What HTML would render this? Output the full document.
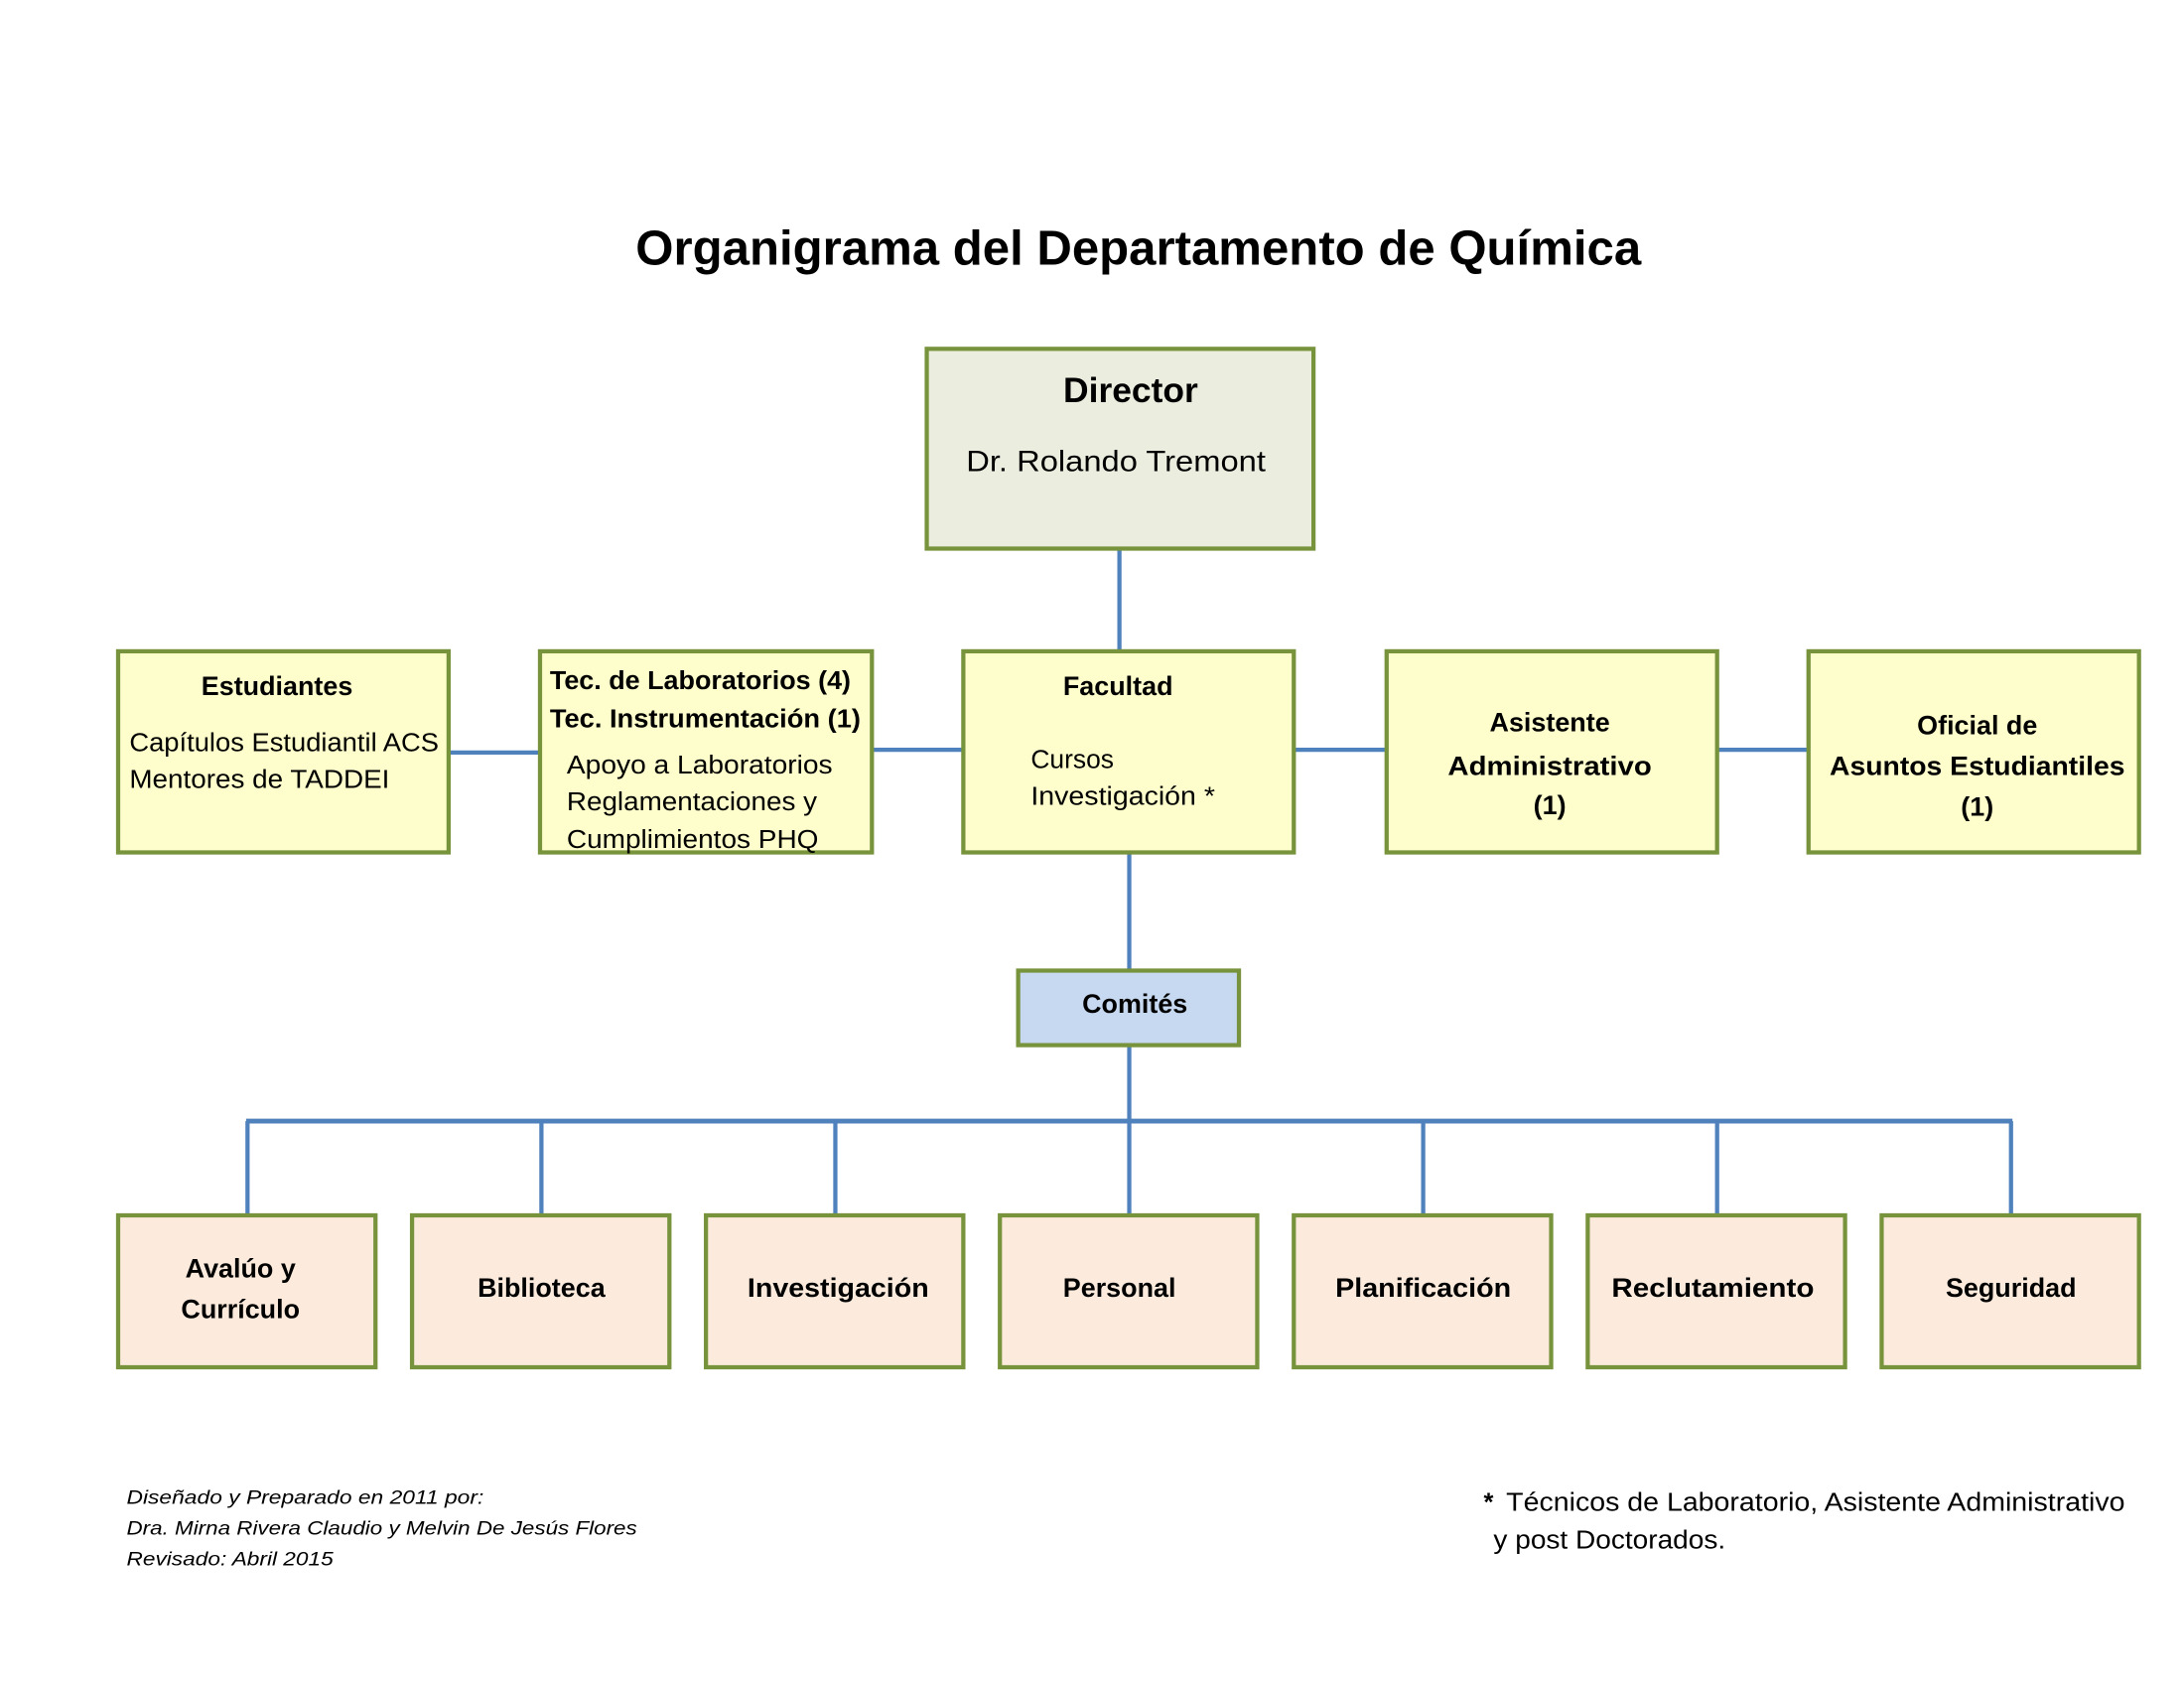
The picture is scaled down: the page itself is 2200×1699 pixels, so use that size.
<!DOCTYPE html>
<html><head><meta charset="utf-8"><style>html,body{margin:0;padding:0;background:#fff}svg{display:block}</style></head>
<body>
<svg width="2200" height="1699" viewBox="0 0 1553 1199.3" preserveAspectRatio="none" xmlns="http://www.w3.org/2000/svg" font-family="'Liberation Sans', sans-serif">
<g stroke="#4F81BD" stroke-width="3" fill="none">
<line x1="796" y1="390" x2="796" y2="463"/>
<line x1="319" y1="535" x2="384" y2="535"/>
<line x1="620" y1="533" x2="685" y2="533"/>
<line x1="920" y1="533" x2="986" y2="533"/>
<line x1="1221" y1="533" x2="1286" y2="533"/>
<line x1="803" y1="606" x2="803" y2="690"/>
<line x1="803" y1="743" x2="803" y2="864"/>
<line x1="175" y1="797" x2="1431" y2="797" stroke-width="3.5"/>
<line x1="176" y1="797" x2="176" y2="864"/>
<line x1="385" y1="797" x2="385" y2="864"/>
<line x1="594" y1="797" x2="594" y2="864"/>
<line x1="1012" y1="797" x2="1012" y2="864"/>
<line x1="1221" y1="797" x2="1221" y2="864"/>
<line x1="1430" y1="797" x2="1430" y2="864"/>
</g>
<g stroke="#77933C" stroke-width="3">
<rect x="659" y="248" width="275" height="142" fill="#EBEEDF"/>
<rect x="84" y="463" width="235" height="143" fill="#FEFECC"/>
<rect x="384" y="463" width="236" height="143" fill="#FEFECC"/>
<rect x="685" y="463" width="235" height="143" fill="#FEFECC"/>
<rect x="986" y="463" width="235" height="143" fill="#FEFECC"/>
<rect x="1286" y="463" width="235" height="143" fill="#FEFECC"/>
<rect x="724" y="690" width="157" height="53" fill="#C6D9F1"/>
<g fill="#FCEBDC">
<rect x="84" y="864" width="183" height="108"/>
<rect x="293" y="864" width="183" height="108"/>
<rect x="502" y="864" width="183" height="108"/>
<rect x="711" y="864" width="183" height="108"/>
<rect x="920" y="864" width="183" height="108"/>
<rect x="1129" y="864" width="183" height="108"/>
<rect x="1338" y="864" width="183" height="108"/>
</g>
</g>
<g fill="#000">
<text x="452" y="188" font-size="35" font-weight="bold" textLength="715" lengthAdjust="spacingAndGlyphs">Organigrama del Departamento de Química</text>
<text x="804" y="286" font-size="25" font-weight="bold" text-anchor="middle">Director</text>
<text x="687" y="335" font-size="21" textLength="213" lengthAdjust="spacingAndGlyphs">Dr. Rolando Tremont</text>
<text x="197" y="494" font-size="19" font-weight="bold" text-anchor="middle">Estudiantes</text>
<text x="92" y="534" font-size="18" textLength="220" lengthAdjust="spacingAndGlyphs">Capítulos Estudiantil ACS</text>
<text x="92" y="560" font-size="18" textLength="185" lengthAdjust="spacingAndGlyphs">Mentores de TADDEI</text>
<text x="391" y="490" font-size="18" font-weight="bold" textLength="214" lengthAdjust="spacingAndGlyphs">Tec. de Laboratorios (4)</text>
<text x="391" y="517" font-size="18" font-weight="bold" textLength="221" lengthAdjust="spacingAndGlyphs">Tec. Instrumentación (1)</text>
<text x="403" y="550" font-size="18" textLength="189" lengthAdjust="spacingAndGlyphs">Apoyo a Laboratorios</text>
<text x="403" y="576" font-size="18" textLength="178" lengthAdjust="spacingAndGlyphs">Reglamentaciones y</text>
<text x="403" y="603" font-size="18" textLength="179" lengthAdjust="spacingAndGlyphs">Cumplimientos PHQ</text>
<text x="795" y="494" font-size="19" font-weight="bold" text-anchor="middle">Facultad</text>
<text x="733" y="546" font-size="18" textLength="59" lengthAdjust="spacingAndGlyphs">Cursos</text>
<text x="733" y="572" font-size="18" textLength="131" lengthAdjust="spacingAndGlyphs">Investigación *</text>
<g font-size="19" font-weight="bold" text-anchor="middle">
<text x="1102" y="520">Asistente</text>
<text x="1102" y="551" textLength="145" lengthAdjust="spacingAndGlyphs">Administrativo</text>
<text x="1102" y="579">(1)</text>
<text x="1406" y="522">Oficial de</text>
<text x="1406" y="551" textLength="210" lengthAdjust="spacingAndGlyphs">Asuntos Estudiantiles</text>
<text x="1406" y="580">(1)</text>
<text x="807" y="720">Comités</text>
<text x="171" y="908">Avalúo y</text>
<text x="171" y="937">Currículo</text>
<text x="385" y="922">Biblioteca</text>
<text x="596" y="922" textLength="129" lengthAdjust="spacingAndGlyphs">Investigación</text>
<text x="796" y="922">Personal</text>
<text x="1012" y="922" textLength="125" lengthAdjust="spacingAndGlyphs">Planificación</text>
<text x="1218" y="922" textLength="144" lengthAdjust="spacingAndGlyphs">Reclutamiento</text>
<text x="1430" y="922">Seguridad</text>
</g>
<g font-size="14" font-style="italic">
<text x="90" y="1069" textLength="254" lengthAdjust="spacingAndGlyphs">Diseñado y Preparado en 2011 por:</text>
<text x="90" y="1091" textLength="363" lengthAdjust="spacingAndGlyphs">Dra. Mirna Rivera Claudio y Melvin De Jesús Flores</text>
<text x="90" y="1113" textLength="147" lengthAdjust="spacingAndGlyphs">Revisado: Abril 2015</text>
</g>
<text x="1055" y="1074" font-size="18" font-weight="bold">*</text>
<text x="1071" y="1074" font-size="18" textLength="440" lengthAdjust="spacingAndGlyphs">Técnicos de Laboratorio, Asistente Administrativo</text>
<text x="1062" y="1101" font-size="18" textLength="165" lengthAdjust="spacingAndGlyphs">y post Doctorados.</text>
</g>
</svg>
</body></html>
